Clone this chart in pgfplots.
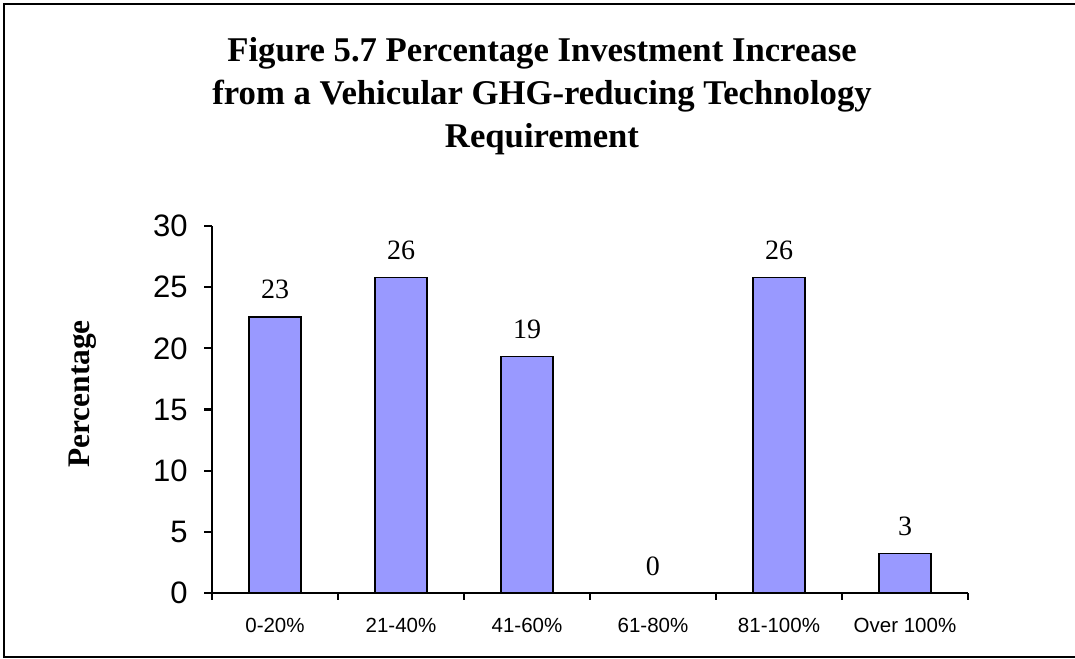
\documentclass[border=0pt]{standalone}
\usepackage{pgfplots}
\pgfplotsset{compat=1.18}
\usepackage{fontspec}
\setmainfont{Liberation Serif}
\newfontfamily\arial{Liberation Sans}
\definecolor{barblue}{RGB}{153,153,255}
\begin{document}
\begin{tikzpicture}
\path[use as bounding box] (0,0) rectangle (537.5pt,329pt);
% outer frame (left, top, bottom; right edge lies beyond the picture)
\draw[line width=1.25pt] (545pt,327pt) -- (2pt,327pt) -- (2pt,0.5pt) -- (545pt,0.5pt);
% title
\node[anchor=base, font=\bfseries\fontsize{17.35}{21.5}\selectfont, inner sep=0pt] at (271pt,298pt) {Figure 5.7 Percentage Investment Increase};
\node[anchor=base, font=\bfseries\fontsize{17.35}{21.5}\selectfont, inner sep=0pt] at (271pt,276.5pt) {from a Vehicular GHG-reducing Technology};
\node[anchor=base, font=\bfseries\fontsize{17.35}{21.5}\selectfont, inner sep=0pt] at (271pt,255pt) {Requirement};
\begin{axis}[
  at={(106pt,32.5pt)}, anchor=south west,
  scale only axis, width=378pt, height=183.5pt,
  xmin=-0.5, xmax=5.5, ymin=0, ymax=30,
  enlargelimits=false, clip=false,
  axis x line*=bottom, axis y line*=left,
  axis line style={line width=1.1pt, -},
  ytick={0,5,10,15,20,25,30},
  xtick={0,1,2,3,4,5},
  xticklabels={0-20\%,21-40\%,41-60\%,61-80\%,81-100\%,Over 100\%},
  minor xtick={-0.5,0.5,1.5,2.5,3.5,4.5,5.5},
  tick align=outside, major tick length=4pt, minor tick length=3.5pt,
  tick style={black, line width=1.1pt},
  every major x tick/.append style={draw=none},
  /pgf/number format/assume math mode=true,
  yticklabel style={font=\arial\fontsize{15.5}{18}\selectfont, anchor=east, inner sep=0pt},
  yticklabel shift=8pt,
  xticklabel style={font=\arial\fontsize{10.25}{12}\selectfont, anchor=north, inner sep=0pt, text height=7.4pt, text depth=0pt},
  xticklabel shift=8pt,
  ylabel={Percentage},
  ylabel style={font=\bfseries\fontsize{15.7}{18}\selectfont, at={(axis description cs:-0.1706,0.5422)}, anchor=center, inner sep=0pt},
  ybar, bar width=26pt,
  point meta=explicit symbolic,
  nodes near coords,
  nodes near coords style={font=\fontsize{14}{16}\selectfont, anchor=center, yshift=13.5pt, inner sep=0pt},
]
\addplot[fill=barblue, draw=black, line width=0.75pt] coordinates {
  (0,22.58) [23]
  (1,25.81) [26]
  (2,19.35) [19]
  (3,0) [0]
  (4,25.81) [26]
  (5,3.23) [3]
};
\end{axis}
\end{tikzpicture}
\end{document}
